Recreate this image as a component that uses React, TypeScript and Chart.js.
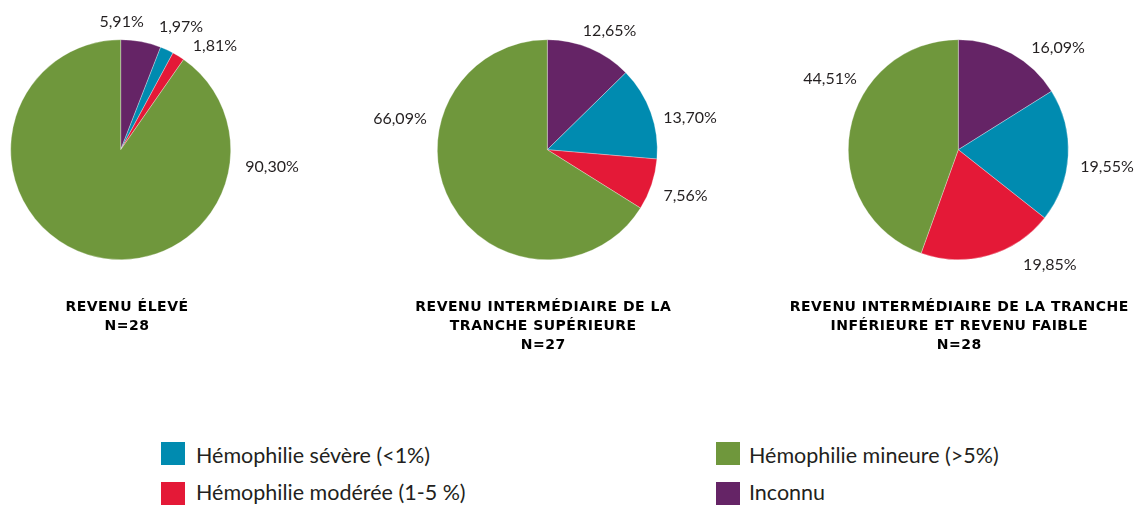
import React, { useEffect, useRef } from 'react';
import { Chart, registerables } from 'chart.js';

Chart.register(...registerables);

// Slice order (clockwise from 12 o'clock)
const categories = ['Inconnu', 'Hémophilie sévère (<1%)', 'Hémophilie modérée (1-5 %)', 'Hémophilie mineure (>5%)'];
const sliceColors = ['#652466', '#008bb0', '#e41937', '#6f973c'];

const revenuEleve = [5.91, 1.97, 1.81, 90.3];
const revenuInterSup = [12.65, 13.7, 7.56, 66.09];
const revenuInterInfFaible = [16.09, 19.55, 19.85, 44.51];

const titleEleve = ['REVENU ÉLEVÉ', 'N=28'];
const titleInterSup = ['REVENU INTERMÉDIAIRE DE LA', 'TRANCHE SUPÉRIEURE', 'N=27'];
const titleInterInf = ['REVENU INTERMÉDIAIRE DE LA TRANCHE', 'INFÉRIEURE ET REVENU FAIBLE', 'N=28'];

// legend order: column 1 then column 2
const legendOrder = [1, 2, 3, 0];

const TEXT = '#231f20';

// label placement: [angle deg clockwise from top, distance / radius]
const place1 = [[0.4, 1.173], [26, 1.251], [42, 1.281], [96, 1.383]];
const place2 = [[27.5, 1.227], [77.1, 1.331], [108.1, 1.322], [282.1, 1.37]];
const place3 = [[44.2, 1.301], [96.3, 1.36], [141.3, 1.332], [299.2, 1.336]];

const fmt = (v: number) => v.toFixed(2).replace('.', ',') + '%';

type PieSpec = {
  values: number[];
  title: string[];
  place: number[][];
  titleDx: number;
  left: number;
  width: number;
  padLeft: number;
  padRight: number;
};

const pies: PieSpec[] = [
  { values: revenuEleve, title: titleEleve, place: place1, titleDx: 6, left: 0, width: 330, padLeft: 0, padRight: 88.6 },
  { values: revenuInterSup, title: titleInterSup, place: place2, titleDx: -4.3, left: 340, width: 400, padLeft: 57.3, padRight: 42.7 },
  { values: revenuInterInfFaible, title: titleInterInf, place: place3, titleDx: 0.7, left: 760, width: 378, padLeft: 48.3, padRight: 29.7 },
];

const labelPlugin = {
  id: 'pieLabels',
  afterDatasetsDraw(chart: any, _args: any, opts: any) {
    const meta = chart.getDatasetMeta(0);
    const arc = meta.data[0];
    if (!arc) return;
    const { x, y, outerRadius } = arc.getProps(['x', 'y', 'outerRadius'], true);
    const ctx = chart.ctx;
    const values = chart.data.datasets[0].data as number[];
    ctx.save();
    ctx.fillStyle = TEXT;
    ctx.font = '16px Lato';
    ctx.textAlign = 'center';
    ctx.textBaseline = 'middle';
    values.forEach((v, i) => {
      const [a, d] = opts.place[i];
      const rad = (a * Math.PI) / 180;
      ctx.fillText(fmt(v), x + d * outerRadius * Math.sin(rad), y - d * outerRadius * Math.cos(rad) + 1);
    });
    // titles
    ctx.fillStyle = '#000000';
    ctx.font = 'bold 14px "DejaVu Sans"';
    (ctx as any).letterSpacing = '0.5px';
    ctx.textBaseline = 'middle';
    (opts.title as string[]).forEach((line, i) => {
      ctx.fillText(line, x + opts.titleDx + 0.25, y + 158 + i * 18.6);
    });
    ctx.restore();
  },
};

function PieChart({ spec }: { spec: PieSpec }) {
  const ref = useRef<HTMLCanvasElement>(null);
  useEffect(() => {
    if (!ref.current) return;
    const chart = new Chart(ref.current, {
      type: 'pie',
      data: {
        labels: categories,
        datasets: [
          {
            data: spec.values,
            backgroundColor: sliceColors,
            borderColor: 'rgba(255,255,255,0.5)',
            borderWidth: 0.6,
            hoverOffset: 0,
          },
        ],
      },
      options: {
        responsive: false,
        animation: false,
        radius: 110,
        layout: { padding: { left: spec.padLeft, right: spec.padRight, top: 0, bottom: 60.6 } },
        plugins: {
          legend: { display: false },
          title: { display: false },
          tooltip: { enabled: false },
          pieLabels: { place: spec.place, title: spec.title, titleDx: spec.titleDx },
        } as any,
      } as any,
      plugins: [labelPlugin],
    });
    return () => chart.destroy();
  }, [spec]);
  return (
    <canvas
      ref={ref}
      width={spec.width}
      height={360}
      style={{ position: 'absolute', left: spec.left, top: 0, width: spec.width, height: 360 }}
    />
  );
}

export default function App() {
  const legendPos = [
    { sq: [161, 442], tx: [196, 443.7] },
    { sq: [161, 481.7], tx: [196, 480.5] },
    { sq: [716, 442], tx: [749, 443.7] },
    { sq: [716, 481.7], tx: [749, 480.5] },
  ];
  return (
    <div
      style={{
        position: 'fixed',
        left: 0,
        top: 0,
        width: 1138,
        height: 506,
        background: '#ffffff',
        overflow: 'hidden',
        fontFamily: 'Lato, sans-serif',
      }}
    >
      {pies.map((p, i) => (
        <PieChart key={i} spec={p} />
      ))}
      {legendOrder.map((ci, k) => (
        <React.Fragment key={ci}>
          <div
            style={{
              position: 'absolute',
              left: legendPos[k].sq[0],
              top: legendPos[k].sq[1],
              width: 24,
              height: 23,
              background: sliceColors[ci],
            }}
          />
          <div
            style={{
              position: 'absolute',
              left: legendPos[k].tx[0],
              top: legendPos[k].tx[1],
              lineHeight: '23px',
              fontSize: 21.5,
              color: TEXT,
              whiteSpace: 'nowrap',
            }}
          >
            {categories[ci]}
          </div>
        </React.Fragment>
      ))}
    </div>
  );
}
